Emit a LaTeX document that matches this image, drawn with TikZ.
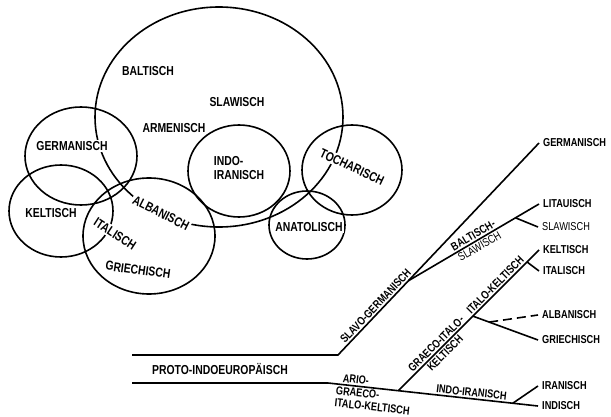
\documentclass[tikz,border=0pt]{standalone}
\usepackage{fontspec}
\newfontfamily\labfont{Liberation Sans}[FakeStretch=0.8]
\usetikzlibrary{shapes.geometric,calc}
\tikzset{
  ring/.style={draw, ellipse, line width=1.6pt, inner sep=0pt, outer sep=0pt},
  lab/.style={font=\labfont\bfseries\fontsize{13}{13.5}\selectfont, fill=white, inner sep=1.5pt},
  tlab/.style={font=\labfont\bfseries\fontsize{11.5}{12.5}\selectfont, inner sep=1.5pt},
  tthin/.style={font=\labfont\fontsize{11.5}{12.5}\selectfont, inner sep=1.5pt},
  leaf/.style={tlab, anchor=west, inner xsep=4pt},
  leafthin/.style={tthin, anchor=west, inner xsep=4pt},
  branch/.style={line width=1.6pt},
}
\begin{document}
\begin{tikzpicture}[x=1pt,y=-1pt]
\useasboundingbox (0,0) rectangle (611,417);
% circles
\node[ring, minimum width=248pt, minimum height=220pt] (big) at (219,117) {};
\node[ring, minimum width=112pt, minimum height=98pt] (cGerm) at (81,156) {};
\node[ring, minimum width=104pt, minimum height=92pt] (cKelt) at (61,211) {};
\node[ring, minimum width=132pt, minimum height=116pt] (cGri) at (149,236) {};
\node[ring, minimum width=102pt, minimum height=92pt] (cIndo) at (239,171) {};
\node[ring, minimum width=100pt, minimum height=90pt] (cToch) at (352,170) {};
\node[ring, minimum width=76pt, minimum height=68pt] (cAnat) at (307,225) {};
% circle labels
\node[lab] (tBal) at (148,71) {BALTISCH};
\node[lab] (tSlaw) at (237,102) {SLAWISCH};
\node[lab] (tArm) at (174,128) {ARMENISCH};
\node[lab] (tGerm) at (72,146) {GERMANISCH};
\node[lab, align=left] (tIndo) at (239,168) {INDO-\\IRANISCH};
\node[lab, rotate=-25] (tToch) at (352,167) {TOCHARISCH};
\node[lab] (tKelt) at (51,213) {KELTISCH};
\node[lab, rotate=-27] (tAlb) at (161,213) {ALBANISCH};
\node[lab, rotate=-33] (tIta) at (115,234) {ITALISCH};
\node[lab, rotate=-8] (tGri) at (138,270) {GRIECHISCH};
\node[lab] (tAnat) at (309,227) {ANATOLISCH};
% tree leaves
\node[leaf] (lG) at (539,143) {GERMANISCH};
\node[leaf] (lLit) at (539,204) {LITAUISCH};
\node[leafthin] (lSla) at (538,227) {SLAWISCH};
\node[leaf] (lKel) at (539,250) {KELTISCH};
\node[leaf] (lIta) at (539,271) {ITALISCH};
\node[leaf] (lAlb) at (538,315) {ALBANISCH};
\node[leaf] (lGri) at (538,340) {GRIECHISCH};
\node[leaf] (lIra) at (538,386) {IRANISCH};
\node[leaf] (lInd) at (538,406) {INDISCH};
\node[tlab, font=\labfont\bfseries\fontsize{13}{13.5}\selectfont] (proto) at (220,369) {PROTO-INDOEUROPÄISCH};
% tree points
\coordinate (p1) at (132,355);
\coordinate (p2) at (338,355);
\coordinate (q1) at (132,383);
\coordinate (q2) at (328,383);
\coordinate (bs0) at ($(p2)!0.35!(lG.west)$);
\coordinate (fBS) at ($(bs0)!0.82!(lLit.west)$);
\coordinate (gik0) at ($(q2)!0.335!(lInd.west)$);
\coordinate (fAG) at ($(gik0)!0.53!(lKel.west)$);
\coordinate (fIK) at ($(gik0)!0.915!(lKel.west)$);
\coordinate (fAl) at ($(fAG)!0.25!(lGri.west)$);
\coordinate (fII) at ($(q2)!0.88!(lInd.west)$);
% branches
\draw[branch] (p1) -- (p2) -- node[tlab, sloped, above, pos=0.21] {SLAVO-GERMANISCH} (lG.west);
\draw[branch] (bs0) -- node[tlab, sloped, above, pos=0.52] {BALTISCH-} node[tthin, sloped, below, pos=0.52] {SLAWISCH} (lLit.west);
\draw[branch] (fBS) -- (lSla.west);
\draw[branch] (q1) -- (q2) -- node[tlab, sloped, above, pos=0.13] {ARIO-}
  node[tlab, sloped, below, pos=0.22, align=left] {GRAECO-\\ITALO-KELTISCH}
  node[tlab, sloped, above, pos=0.68] {INDO-IRANISCH} (lInd.west);
\draw[branch] (gik0) -- node[tlab, sloped, above, pos=0.3] {GRAECO-ITALO-}
  node[tlab, sloped, below, pos=0.3] {KELTISCH}
  node[tlab, sloped, above, pos=0.72] {ITALO-KELTISCH} (lKel.west);
\draw[branch] (fIK) -- (lIta.west);
\draw[branch] (fAG) -- (lGri.west);
\draw[branch, dash pattern=on 9pt off 5pt] (fAl) -- (lAlb.west);
\draw[branch] (fII) -- (lIra.west);
\end{tikzpicture}
\end{document}
